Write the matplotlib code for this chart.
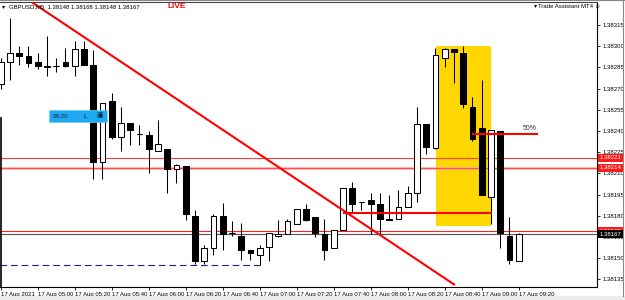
import matplotlib
matplotlib.use('Agg')
import matplotlib.pyplot as plt
from matplotlib.patches import Rectangle
from matplotlib.lines import Line2D
import numpy as np

plt.rcParams['font.family'] = ['Liberation Sans', 'DejaVu Sans']

# GBPUSD M5 bars, 17 Aug 2021 04:40 .. 09:20
opens = [1.38273, 1.38289, 1.38295, 1.38293, 1.38289, 1.38285, 1.38286, 1.38289, 1.38286, 1.38298,
         1.38287, 1.38218, 1.38261, 1.38236, 1.38246, 1.38238, 1.38237, 1.38226, 1.38227, 1.38213,
         1.38215, 1.38180, 1.38148, 1.38157, 1.38180, 1.38168, 1.38166, 1.38156, 1.38152, 1.38158,
         1.38166, 1.38167, 1.38174, 1.38185, 1.38179, 1.38167, 1.38157, 1.38170, 1.38200, 1.38190,
         1.38191, 1.38188, 1.38178, 1.38178, 1.38186, 1.38196, 1.38245, 1.38228, 1.38292, 1.38298,
         1.38295, 1.38257, 1.38242, 1.38193, 1.38240, 1.38166, 1.38148]
highs = [1.38292, 1.38320, 1.38300, 1.38300, 1.38295, 1.38307, 1.38292, 1.38299, 1.38304, 1.38304,
         1.38297, 1.38260, 1.38267, 1.38257, 1.38246, 1.38244, 1.38240, 1.38248, 1.38227, 1.38217,
         1.38215, 1.38184, 1.38159, 1.38181, 1.38189, 1.38176, 1.38175, 1.38156, 1.38159, 1.38168,
         1.38177, 1.38178, 1.38185, 1.38188, 1.38179, 1.38178, 1.38170, 1.38200, 1.38204, 1.38190,
         1.38196, 1.38196, 1.38195, 1.38198, 1.38201, 1.38257, 1.38245, 1.38299, 1.38299, 1.38298,
         1.38300, 1.38264, 1.38276, 1.38241, 1.38240, 1.38179, 1.38168]
lows = [1.38270, 1.38276, 1.38287, 1.38285, 1.38284, 1.38279, 1.38282, 1.38285, 1.38279, 1.38287,
        1.38206, 1.38206, 1.38234, 1.38226, 1.38230, 1.38230, 1.38210, 1.38226, 1.38196, 1.38203,
        1.38177, 1.38146, 1.38146, 1.38152, 1.38156, 1.38166, 1.38149, 1.38149, 1.38145, 1.38148,
        1.38165, 1.38167, 1.38174, 1.38176, 1.38165, 1.38149, 1.38157, 1.38170, 1.38182, 1.38184,
        1.38167, 1.38167, 1.38177, 1.38178, 1.38186, 1.38190, 1.38224, 1.38227, 1.38285, 1.38274,
        1.38256, 1.38233, 1.38195, 1.38174, 1.38157, 1.38146, 1.38148]
closes = [1.38289, 1.38295, 1.38293, 1.38288, 1.38286, 1.38286, 1.38286, 1.38286, 1.38298, 1.38287,
          1.38218, 1.38260, 1.38236, 1.38246, 1.38241, 1.38238, 1.38227, 1.38231, 1.38213, 1.38216,
          1.38181, 1.38148, 1.38157, 1.38180, 1.38167, 1.38168, 1.38156, 1.38154, 1.38157, 1.38168,
          1.38167, 1.38176, 1.38185, 1.38177, 1.38168, 1.38156, 1.38170, 1.38200, 1.38188, 1.38190,
          1.38188, 1.38178, 1.38177, 1.38186, 1.38196, 1.38245, 1.38229, 1.38294, 1.38298, 1.38296,
          1.38259, 1.38234, 1.38195, 1.38241, 1.38168, 1.38149, 1.38167]

time_labels = ['17 Aug 2021', '17 Aug 05:00', '17 Aug 05:20', '17 Aug 05:40', '17 Aug 06:00',
               '17 Aug 06:20', '17 Aug 06:40', '17 Aug 07:00', '17 Aug 07:20', '17 Aug 07:40',
               '17 Aug 08:00', '17 Aug 08:20', '17 Aug 08:40', '17 Aug 09:00', '17 Aug 09:20']
price_ticks = [1.38135, 1.38150, 1.38165, 1.38180, 1.38195, 1.38210, 1.38225,
               1.38240, 1.38255, 1.38270, 1.38285, 1.38300, 1.38315]

# drawn objects (bar index / price)
zone_x = [47.05, 53.0]
zone_y = [1.38173, 1.38300]
trend_x = [3.4, 49.1]
trend_y = [1.38331, 1.38131]
level_price = 1.38182
level_x = [37.0, 53.1]
fib_price = 1.38238
fib_x = [50.9, 58.1]
dash_price = 1.38145
dash_x = [-0.1, 28.0]
hlines_red = [1.38221, 1.38214, 1.38169]
bid = 1.38167

fig = plt.figure(figsize=(6.25, 3), dpi=100)
ax = fig.add_axes([0, 0.0433, 0.9552, 0.95])

x = np.arange(len(opens))
o = np.array(opens); c = np.array(closes)

# yellow zone
ax.fill_between(zone_x, zone_y[0], zone_y[1], color='#FFD700', lw=0, zorder=1)

# horizontal lines
ax.axhline(hlines_red[0], color='#ff3b3b', lw=0.8, zorder=2)
ax.axhline(hlines_red[1], color='#ffa0a0', lw=1.8, zorder=2)
ax.axhline(hlines_red[1], color='#ff4040', lw=0.6, zorder=2)
ax.axhline(hlines_red[2], color='#ff2020', lw=0.8, zorder=2)
ax.axhline(bid, color='#555555', lw=0.8, zorder=2)
ax.hlines(dash_price, dash_x[0], dash_x[1], color='#1c1ca0', lw=0.8,
          linestyles=(0, (6, 3.5)), zorder=2)

# candles
ax.vlines(x, lows, highs, color='black', lw=0.75, zorder=3)
body_bottom = np.minimum(o, c)
body_height = np.abs(c - o)
body_color = ['white' if cc >= oo else 'black' for oo, cc in zip(o, c)]
ax.bar(x, body_height, bottom=body_bottom, width=0.62, color=body_color,
       edgecolor='black', linewidth=0.75, zorder=4)
doji = body_height < 1e-9
ax.hlines(c[doji], x[doji] - 0.31, x[doji] + 0.31, color='black', lw=0.8, zorder=4)

# objects on top
ax.hlines(level_price, level_x[0], level_x[1], color='red', lw=1.5, zorder=5)
ax.hlines(fib_price, fib_x[0], fib_x[1], color='red', lw=1.5, zorder=5)
ax.text(fib_x[1] - 0.2, fib_price + 0.000015, '50%', ha='right', va='bottom',
        fontsize=5, color='#333333', zorder=6)
ax.plot(trend_x, trend_y, color='red', lw=1.5, zorder=6, solid_capstyle='butt')

ax.set_xlim(-0.08, 64.46)
ax.set_ylim(1.381296, 1.383313)

# axes look like the terminal
ax.yaxis.tick_right()
ax.set_yticks(price_ticks)
ax.set_yticklabels(['%.5f' % p for p in price_ticks])
ax.set_xticks(np.arange(0, len(opens), 4))
ax.set_xticklabels(time_labels, ha='left')
ax.tick_params(axis='both', labelsize=4.3, length=2.5, width=0.6, color='black', pad=1)
ax.tick_params(axis='y', pad=1.5)
for s in ['left']:
    ax.spines[s].set_visible(False)
ax.spines['right'].set_linewidth(0.8)
ax.spines['bottom'].set_linewidth(0.8)
ax.spines['top'].set_color('#444444')
ax.spines['top'].set_linewidth(0.8)
ax.plot([0.002, 0.002], [0, 0.593], transform=ax.transAxes, color='black', lw=1.2, clip_on=False)

# price labels on the scale
ytr = ax.get_yaxis_transform()
for p, fc in [(hlines_red[0], '#ff1a1a'), (hlines_red[1], '#ff1a1a'), (hlines_red[2], '#ff1a1a'), (bid, 'black')]:
    ax.text(1.004, p, '%.5f' % p, transform=ytr, ha='left', va='center', fontsize=4.3,
            color='white', clip_on=False, zorder=10,
            bbox=dict(boxstyle='square,pad=0.28', fc=fc, ec='none'))

# header texts
fig.text(2 / 625, 1 - 7 / 300, '\u25be', fontsize=4.5, va='center', color='black')
fig.text(9 / 625, 1 - 7 / 300, 'GBPUSD,M5  1.38148 1.38168 1.38148 1.38167', fontsize=4.3,
         va='center', color='black')
fig.text(177 / 625, 1 - 7 / 300, 'LIVE', fontsize=6, weight='bold', color='red',
         ha='center', va='center')
fig.text(534 / 625, 1 - 6 / 300, '\u25be', fontsize=4.5, va='center', color='black')
fig.text(538 / 625, 1 - 7 / 300, 'Trade Assistant MT4 \u263a', fontsize=4.3, va='center', color='black')

# blue order label
fig.add_artist(Rectangle((49 / 625, 1 - 122 / 300), 58 / 625, 12 / 300,
                         transform=fig.transFigure, fc='#1eaaf0', ec='#6fcaf5', lw=0.5))
fig.text(53 / 625, 1 - 116 / 300, '09:20', fontsize=4.5, va='center', color='#102040')
fig.text(84 / 625, 1 - 116 / 300, 'L', fontsize=4.5, va='center', color='#102040')
fig.text(96 / 625, 1 - 116 / 300, '\u25a3', fontsize=5, va='center', color='#102040')

# window frame bits
fig.add_artist(Rectangle((0, 0), 1, 4 / 300, transform=fig.transFigure, fc='#ececec', ec='none'))
fig.add_artist(Line2D([0, 1], [0.999, 0.999], transform=fig.transFigure, color='#888888', lw=0.8))
fig.add_artist(Line2D([623 / 625, 623 / 625], [4 / 300, 1], transform=fig.transFigure, color='#888888', lw=0.8))

plt.savefig('out.png', dpi=100)
